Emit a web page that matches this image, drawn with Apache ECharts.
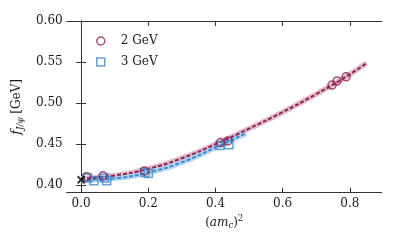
<!DOCTYPE html>
<html><head><meta charset="utf-8">
<script src="https://cdn.jsdelivr.net/npm/echarts@6/dist/echarts.min.js"></script>
<style>html,body{margin:0;padding:0;background:#fff}#c{width:399px;height:247px}</style>
</head><body><div id="c"></div>
<script>
// Data
const xTicks = [0, 0.2, 0.4, 0.6, 0.8];
const yTicks = [0.40, 0.45, 0.50, 0.55, 0.60];
const pts2GeV = [[0.016,0.4105],[0.065,0.4115],[0.188,0.4175],[0.415,0.452],[0.437,0.454],[0.747,0.522],[0.762,0.527],[0.789,0.532]];
const pts3GeV = [[0.02,0.409],[0.038,0.4055],[0.07,0.409],[0.076,0.4055],[0.19,0.4155],[0.2,0.4145],[0.413,0.4485],[0.44,0.4495]];
const fit2GeV = [[0,0.408],[0.1,0.412],[0.2,0.420],[0.3,0.433],[0.4,0.450],[0.5,0.469],[0.6,0.489],[0.7,0.511],[0.8,0.535],[0.85,0.549]];
const fit3GeV = [[0,0.4065],[0.1,0.4085],[0.2,0.4155],[0.3,0.428],[0.4,0.446],[0.49,0.463]];
const continuum = [[0,0.4068]];

const RED = '#8c2352', BLUE = '#3d8bd0';
const font = 'DejaVu Serif';
const TXT = '#1a1a1a';
const chart = echarts.init(document.getElementById('c'));
const axLine = {lineStyle:{color:'#333',width:1}};
const tick = {inside:true,length:5,lineStyle:{color:'#333',width:1}};
chart.setOption({
  animation:false,
  grid:{left:66.7,right:17.3,top:21,bottom:54.3},
  legend:{
    left:91, top:29, orient:'vertical', itemGap:7, itemWidth:8, itemHeight:8,
    data:[{name:'2 GeV',icon:'circle',itemStyle:{color:'#fff',borderColor:RED,borderWidth:1.5}},
          {name:'3 GeV',icon:'rect',itemStyle:{color:'#fff',borderColor:BLUE,borderWidth:1.5}}],
    textStyle:{fontFamily:font,fontSize:12,color:TXT,lineHeight:14,padding:[0,0,0,11]}
  },
  xAxis:[{type:'value',min:-0.043,max:0.895,position:'bottom',axisLine:axLine,splitLine:{show:false},
    axisTick:Object.assign({customValues:xTicks},tick),
    axisLabel:{customValues:xTicks,formatter:v=>v.toFixed(1),fontFamily:font,fontSize:12,color:TXT,margin:5},
    name:'{n|(}{i|am}{s|c}{n|)}{p|2}',nameLocation:'middle',nameGap:22,
    nameTextStyle:{rich:{
      n:{fontFamily:font,fontSize:12,color:TXT,lineHeight:16},
      i:{fontFamily:font,fontStyle:'italic',fontSize:12,color:TXT,lineHeight:16},
      s:{fontFamily:font,fontStyle:'italic',fontSize:8.5,color:TXT,lineHeight:9,verticalAlign:'bottom'},
      p:{fontFamily:font,fontSize:8.5,color:TXT,lineHeight:9,verticalAlign:'top'}}}},
   {type:'value',min:-0.043,max:0.895,position:'top',axisLine:axLine,splitLine:{show:false},
    axisTick:Object.assign({customValues:xTicks},tick),axisLabel:{show:false}}],
  yAxis:[{type:'value',min:0.391,max:0.600,position:'left',axisLine:axLine,splitLine:{show:false},
    axisTick:Object.assign({customValues:yTicks},tick),
    axisLabel:{customValues:yTicks,formatter:v=>v.toFixed(2),fontFamily:font,fontSize:12,color:TXT,margin:4},
    name:'{i|f}{s|J/ψ} {n|[GeV]}',nameLocation:'middle',nameGap:34,nameRotate:90,
    nameTextStyle:{rich:{
      n:{fontFamily:font,fontSize:12,color:TXT,lineHeight:16},
      i:{fontFamily:font,fontStyle:'italic',fontSize:13,color:TXT,lineHeight:16},
      s:{fontFamily:font,fontStyle:'italic',fontSize:8.5,color:TXT,lineHeight:9,verticalAlign:'bottom'}}}},
   {type:'value',min:0.391,max:0.600,position:'right',axisLine:axLine,splitLine:{show:false},
    axisTick:Object.assign({customValues:yTicks},tick),axisLabel:{show:false}}],
  series:[
    {name:'band2',type:'line',data:fit2GeV,smooth:true,showSymbol:false,silent:true,z:1,
     lineStyle:{color:'#dcb0c3',width:5.5,opacity:0.85}},
    {name:'band3',type:'line',data:fit3GeV,smooth:true,showSymbol:false,silent:true,z:1,
     lineStyle:{color:'#acd0ee',width:5.5,opacity:0.85}},
    {name:'fit3',type:'line',data:fit3GeV,smooth:true,showSymbol:false,silent:true,z:2,
     lineStyle:{color:BLUE,width:2,type:[4,2]}},
    {name:'fit2',type:'line',data:fit2GeV,smooth:true,showSymbol:false,silent:true,z:3,
     lineStyle:{color:RED,width:2,type:[4,2]}},
    {name:'3 GeV',type:'scatter',data:pts3GeV,symbol:'rect',symbolSize:8,z:4,
     itemStyle:{color:'rgba(255,255,255,0)',borderColor:BLUE,borderWidth:1.5}},
    {name:'2 GeV',type:'scatter',data:pts2GeV,symbol:'circle',symbolSize:8,z:5,
     itemStyle:{color:'rgba(255,255,255,0)',borderColor:RED,borderWidth:1.5}},
    {name:'cont',type:'scatter',data:continuum,symbol:'path://M0,0L10,10M10,0L0,10',symbolSize:7,z:6,
     itemStyle:{color:'none',borderColor:'#000',borderWidth:2}}
  ]
});
</script></body></html>
